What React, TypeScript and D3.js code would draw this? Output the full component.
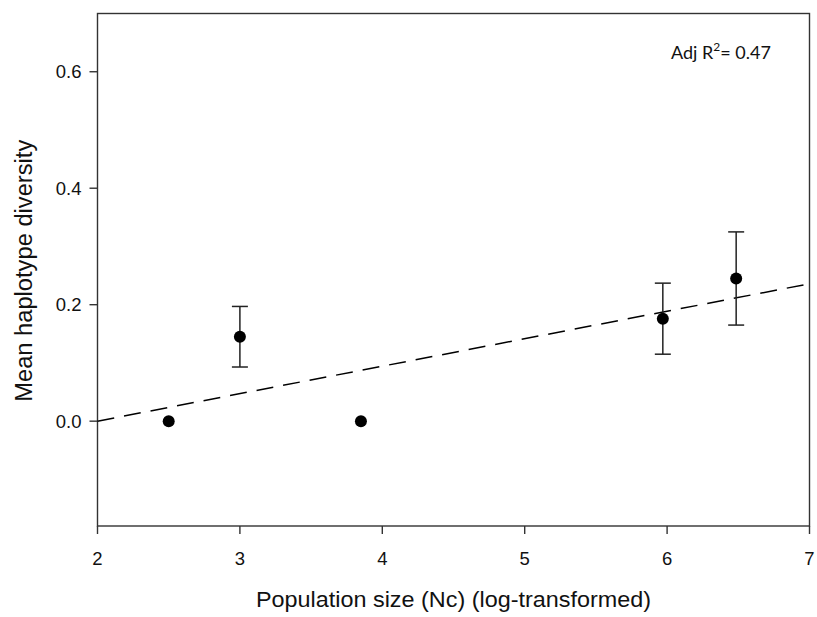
import React from "react";
import * as d3 from "d3";

const xValues = [2.5, 3.0, 3.85, 5.97, 6.485];
const yValues = [0.0, 0.145, 0.0, 0.176, 0.245];
const yErrors = [0, 0.052, 0, 0.061, 0.08];
const xTicks = [2, 3, 4, 5, 6, 7];
const yTicks = [0.0, 0.2, 0.4, 0.6];
const fitX = [2, 7];
const fitY = [0.0, 0.236];

const W = 817;
const H = 617;
const M = { left: 97.5, right: 809.5, top: 13.5, bottom: 526 };

export default function App() {
  const x = d3.scaleLinear().domain([2, 7]).range([M.left, M.right]);
  const y = d3.scaleLinear().domain([-0.18, 0.7]).range([M.bottom, M.top]);
  const line = d3
    .line<number>()
    .x((_, i) => x(fitX[i]))
    .y((d) => y(d));
  const axisColor = "#333";
  return (
    <svg
      width={W}
      height={H}
      style={{ position: "absolute", left: 0, top: 0, background: "#fff" }}
      fontFamily="'Liberation Sans', Arial, sans-serif"
    >
      <rect
        x={M.left}
        y={M.top}
        width={M.right - M.left}
        height={M.bottom - M.top}
        fill="none"
        stroke={axisColor}
        strokeWidth={1.4}
      />
      {yTicks.map((t) => (
        <g key={"y" + t}>
          <line x1={M.left - 8} x2={M.left} y1={y(t)} y2={y(t)} stroke={axisColor} strokeWidth={1.4} />
          <text x={M.left - 16} y={y(t)} dy="0.35em" textAnchor="end" fontSize={18.5} fill="#111">
            {d3.format(".1f")(t)}
          </text>
        </g>
      ))}
      {xTicks.map((t) => (
        <g key={"x" + t}>
          <line x1={x(t)} x2={x(t)} y1={M.bottom} y2={M.bottom + 8} stroke={axisColor} strokeWidth={1.4} />
          <text x={x(t)} y={M.bottom + 39} textAnchor="middle" fontSize={18.5} fill="#111">
            {t}
          </text>
        </g>
      ))}
      <path
        d={line(fitY) || ""}
        fill="none"
        stroke="#000"
        strokeWidth={1.5}
        strokeDasharray="17 10"
      />
      {xValues.map((xv, i) =>
        yErrors[i] > 0 ? (
          <g key={"e" + i} stroke="#222" strokeWidth={1.5}>
            <line x1={x(xv)} x2={x(xv)} y1={y(yValues[i] - yErrors[i])} y2={y(yValues[i] + yErrors[i])} />
            <line x1={x(xv) - 8} x2={x(xv) + 8} y1={y(yValues[i] + yErrors[i])} y2={y(yValues[i] + yErrors[i])} />
            <line x1={x(xv) - 8} x2={x(xv) + 8} y1={y(yValues[i] - yErrors[i])} y2={y(yValues[i] - yErrors[i])} />
          </g>
        ) : null
      )}
      {xValues.map((xv, i) => (
        <circle key={"p" + i} cx={x(xv)} cy={y(yValues[i])} r={6} fill="#000" />
      ))}
      <text
        x={(M.left + M.right) / 2}
        y={607}
        textAnchor="middle"
        fontSize={22}
        textLength={395}
        lengthAdjust="spacingAndGlyphs"
        fill="#111"
      >
        Population size (Nc) (log-transformed)
      </text>
      <text
        transform={`translate(32, ${(M.top + M.bottom) / 2 + 1}) rotate(-90)`}
        textAnchor="middle"
        fontSize={23}
        textLength={262}
        lengthAdjust="spacingAndGlyphs"
        fill="#111"
      >
        Mean haplotype diversity
      </text>
      <text x={671} y={59} fontSize={18} fontFamily="Lato, 'Open Sans', sans-serif" fill="#111">
        Adj R<tspan dy={-8} fontSize={12}>2</tspan>
        <tspan dy={8}>= 0.47</tspan>
      </text>
    </svg>
  );
}
